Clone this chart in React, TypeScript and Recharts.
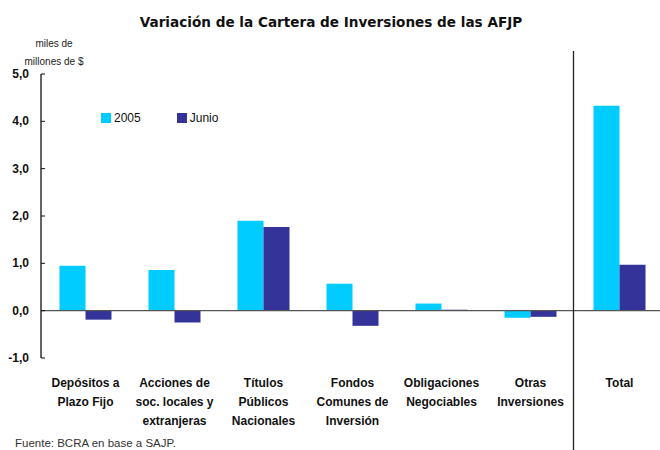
import { BarChart, Bar, XAxis, YAxis, ReferenceLine } from 'recharts';

const categories = [
  'Depósitos a\nPlazo Fijo',
  'Acciones de\nsoc. locales y\nextranjeras',
  'Títulos\nPúblicos\nNacionales',
  'Fondos\nComunes de\nInversión',
  'Obligaciones\nNegociables',
  'Otras\nInversiones',
  'Total',
];
const serie2005 = [0.95, 0.86, 1.9, 0.57, 0.15, -0.15, 4.33];
const serieJunio = [-0.19, -0.25, 1.77, -0.32, 0.02, -0.13, 0.97];
const yTicks = [-1, 0, 1, 2, 3, 4, 5];
const seriesNames = ['2005', 'Junio'];

const COLORS = ['#00CCFF', '#333399'];
const FONT = '"Liberation Sans", Arial, sans-serif';

const data = categories.map((c, i) => ({ cat: c, a: serie2005[i], b: serieJunio[i] }));

const W = 664;
const H = 450;
const LEFT = 41;
const TOP = 74;
const BOTTOM = 92;

const XTick = ({ x, y, payload }: any) => {
  const lines = String(payload.value).split('\n');
  return (
    <text x={x} y={y} textAnchor="middle" fontFamily={FONT} fontSize={12} fontWeight="bold" fill="#111">
      {lines.map((l, i) => (
        <tspan key={i} x={x} y={y + 29 + i * 19}>{l}</tspan>
      ))}
    </text>
  );
};

const YTick = ({ x, y, payload }: any) => (
  <g>
    <line x1={x} x2={x + 4} y1={y} y2={y} stroke="#111" strokeWidth={1} />
    <text x={x - 12} y={y + 4} textAnchor="end" fontFamily={FONT} fontSize={12} fontWeight="bold" fill="#111">
      {payload.value.toFixed(1).replace('.', ',')}
    </text>
  </g>
);

export default function App() {
  const band = (W - LEFT) / categories.length;
  const sepX = LEFT + band * (categories.length - 1);
  return (
    <div style={{ position: 'absolute', left: 0, top: 0, width: 660, height: 450, overflow: 'hidden', background: '#fff' }}>
      <BarChart
        width={W}
        height={H}
        data={data}
        margin={{ top: TOP, right: 0, left: 0, bottom: BOTTOM - 60 }}
        barGap={0}
        barCategoryGap={18.5}
      >
        <XAxis
          dataKey="cat"
          height={60}
          tick={<XTick />}
          tickLine={false}
          axisLine={false}
          tickSize={0}
          tickMargin={0}
          interval={0}
        />
        <YAxis
          width={LEFT}
          domain={[-1, 5]}
          ticks={yTicks}
          interval={0}
          tick={<YTick />}
          tickLine={false}
          tickSize={0}
          tickMargin={0}
          axisLine={{ stroke: '#111', strokeWidth: 1.3 }}
        />
        <Bar dataKey="a" name={seriesNames[0]} fill={COLORS[0]} isAnimationActive={false} />
        <Bar dataKey="b" name={seriesNames[1]} fill={COLORS[1]} isAnimationActive={false} />
        <ReferenceLine y={0} stroke="#555" strokeWidth={1.4} />
      </BarChart>
      <div style={{ position: 'absolute', left: 101, top: 111, display: 'flex', fontFamily: FONT, fontSize: 12, color: '#111' }}>
        {seriesNames.map((n, i) => (
          <div key={n} style={{ display: 'flex', alignItems: 'center', marginRight: 36 }}>
            <span style={{ width: 10, height: 10, background: COLORS[i], marginRight: 3, display: 'inline-block' }} />
            {n}
          </div>
        ))}
      </div>
      <svg width={660} height={450} style={{ position: 'absolute', left: 0, top: 0, pointerEvents: 'none' }}>
        <line x1={sepX - 1.5} x2={sepX - 1.5} y1={51} y2={450} stroke="#222" strokeWidth={1.3} />
        <text x={331} y={27} textAnchor="middle" fontFamily='"DejaVu Sans", sans-serif' fontSize={13.6} fontWeight="bold" fill="#111">
          Variación de la Cartera de Inversiones de las AFJP
        </text>
        <text x={54} y={47} textAnchor="middle" fontFamily={FONT} fontSize={10} fill="#222">miles de</text>
        <text x={54} y={65} textAnchor="middle" fontFamily={FONT} fontSize={10} fill="#222">millones de $</text>
        <text x={15} y={447} fontFamily={FONT} fontSize={11.5} fill="#333">Fuente: BCRA en base a SAJP.</text>
      </svg>
    </div>
  );
}
